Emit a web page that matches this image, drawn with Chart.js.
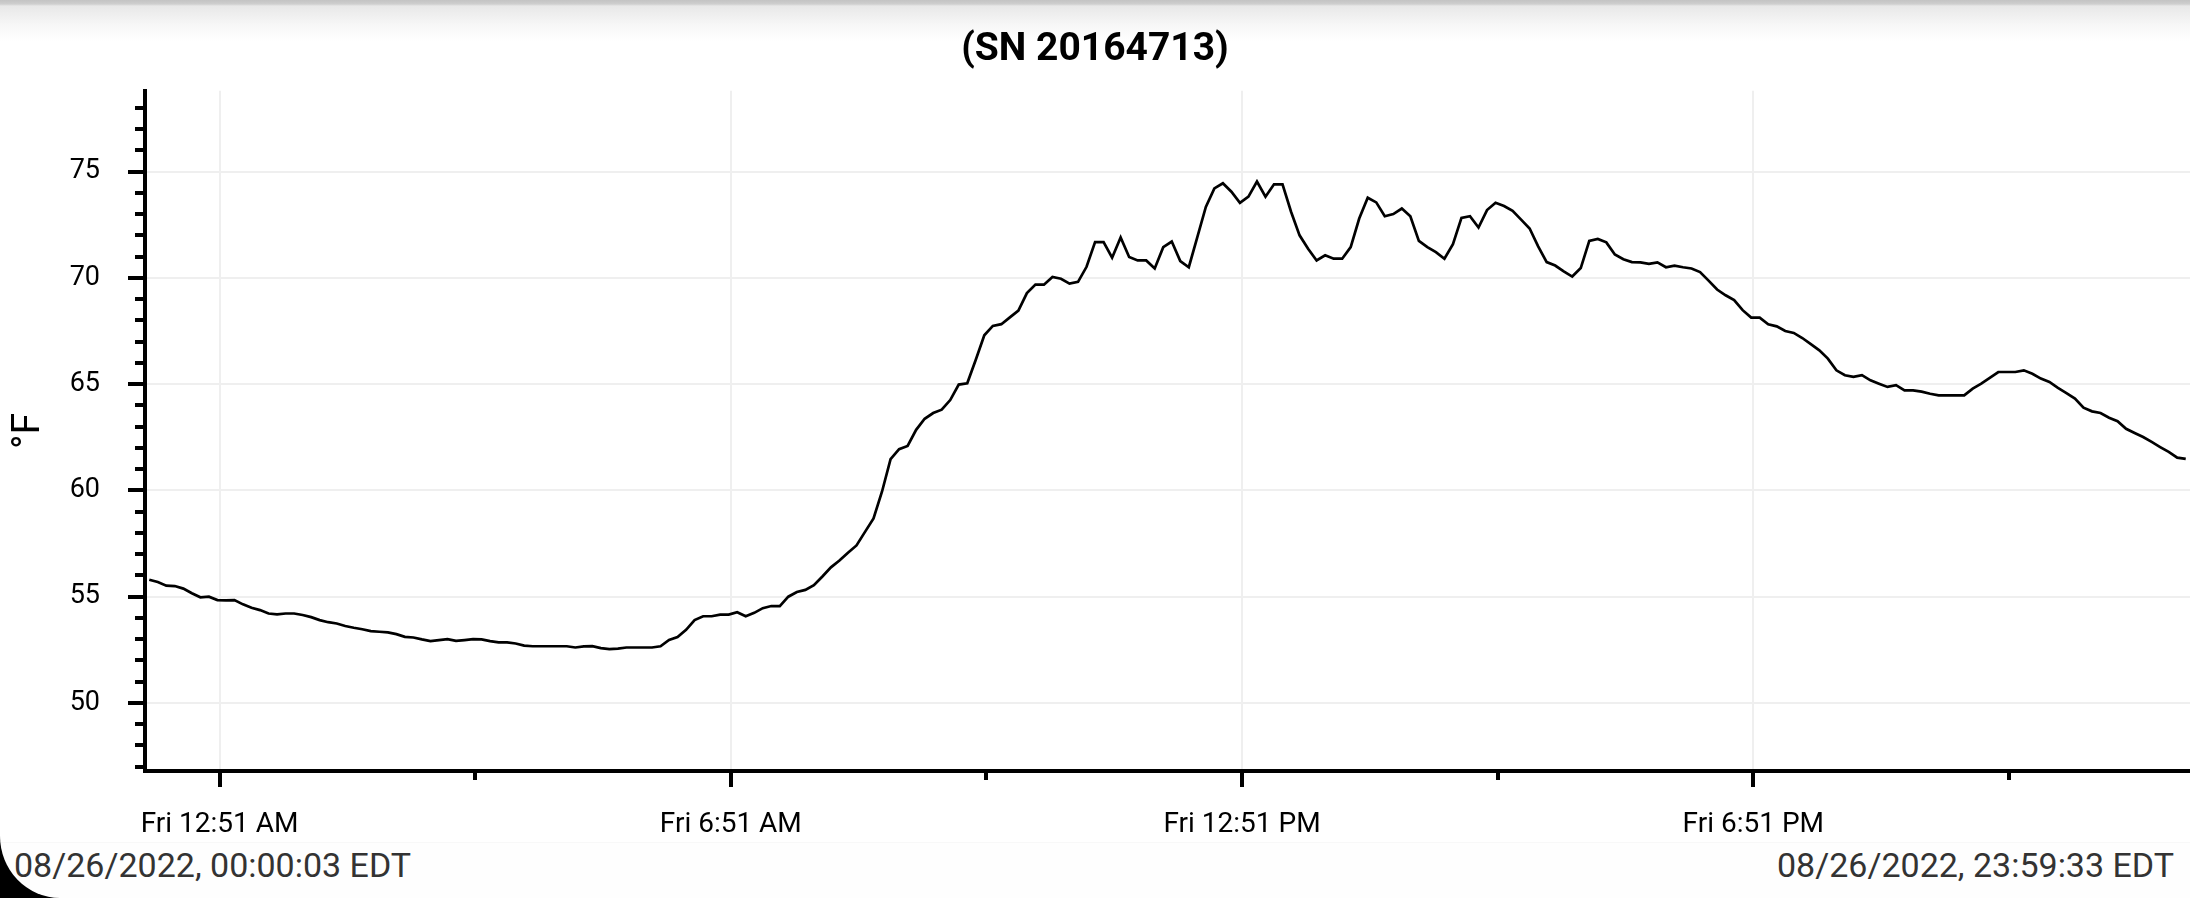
<!DOCTYPE html>
<html>
<head>
<meta charset="utf-8">
<title>SN 20164713</title>
<script src="https://cdn.jsdelivr.net/npm/chart.js@4.4.1/dist/chart.umd.min.js"></script>
<style>
  html, body { margin:0; padding:0; background:#fff; width:2190px; height:898px; overflow:hidden; font-family: Roboto, sans-serif; }
  #topShade { position:absolute; left:0; top:0; width:2190px; height:42px;
    background: linear-gradient(to bottom, #c3c3c3 0px, #cecece 4px, #e8e8e8 6px, #f6f6f6 24px, #ffffff 42px); }
  #chartBox { position:absolute; left:0; top:0; width:2190px; height:850px; }
  #footer { position:absolute; left:0; top:842px; width:2190px; height:56px;
    background:#fefefe; border-top:1px solid #f8f8f8; }
  .stamp { position:absolute; top:2px; font-size:34px; line-height:40px; color:#333; }
  #stampStart { left:14px; }
  #stampEnd { right:16px; }
  #corner { position:absolute; left:0; bottom:0; width:60px; height:62px; overflow:hidden; }
  #corner div { position:absolute; left:0; bottom:0; width:160px; height:160px;
    border-bottom-left-radius:60px 62px; box-shadow:0 0 0 80px #000; }
</style>
</head>
<body>
<div id="topShade"></div>
<div id="chartBox"><canvas id="id-grafico"></canvas></div>
<div id="footer">
  <span class="stamp" id="stampStart">08/26/2022, 00:00:03 EDT</span>
  <span class="stamp" id="stampEnd">08/26/2022, 23:59:33 EDT</span>
</div>
<div id="corner"><div></div></div>

<script>
// readings every 6 minutes, °F
const tempNight = [55.80, 55.69, 55.52, 55.50, 55.38, 55.16, 54.97, 55.00, 54.84, 54.83,
  54.84, 54.64, 54.48, 54.37, 54.21, 54.17, 54.21, 54.21, 54.14, 54.04,
  53.90, 53.80, 53.74, 53.62, 53.54, 53.47, 53.38, 53.35, 53.32, 53.24,
  53.11, 53.08, 52.99, 52.91, 52.96, 53.00, 52.92, 52.96, 53.00, 52.99,
  52.91, 52.85, 52.85, 52.80, 52.70, 52.67, 52.67, 52.67, 52.67, 52.67,
  52.61, 52.66, 52.67, 52.58, 52.53, 52.56, 52.61, 52.61, 52.61, 52.61, 52.67];
const tempMorning = [52.97, 53.10, 53.44, 53.90, 54.08, 54.08, 54.16, 54.16, 54.27, 54.08,
  54.24, 54.46, 54.56, 54.56, 55.00, 55.22, 55.32, 55.54, 55.95, 56.38,
  56.70, 57.07, 57.41, 58.05, 58.68, 59.95, 61.47, 61.94, 62.09, 62.85,
  63.37, 63.64, 63.80, 64.25, 64.98, 65.04, 66.15, 67.30, 67.74, 67.82,
  68.14, 68.46, 69.28, 69.68, 69.68, 70.04, 69.96, 69.73, 69.81, 70.52,
  71.68, 71.68, 70.95, 71.90, 70.98, 70.82, 70.82, 70.44, 71.44, 71.71, 70.79];
const tempAfternoon = [70.50, 71.92, 73.34, 74.21, 74.45, 74.05, 73.53, 73.82, 74.53, 73.82,
  74.40, 74.40, 73.11, 72.00, 71.37, 70.82, 71.06, 70.90, 70.90, 71.45,
  72.79, 73.77, 73.55, 72.90, 73.00, 73.26, 72.90, 71.74, 71.45, 71.21,
  70.90, 71.58, 72.82, 72.90, 72.37, 73.19, 73.53, 73.38, 73.15, 72.74,
  72.32, 71.48, 70.74, 70.58, 70.30, 70.06, 70.46, 71.74, 71.83, 71.67,
  71.10, 70.88, 70.74, 70.73, 70.66, 70.73, 70.50, 70.57, 70.50, 70.44, 70.27, 69.87];
const tempEvening = [69.45, 69.18, 68.95, 68.48, 68.13, 68.13, 67.82, 67.72, 67.50, 67.41,
  67.17, 66.88, 66.59, 66.20, 65.65, 65.42, 65.34, 65.42, 65.18, 65.02,
  64.87, 64.95, 64.71, 64.71, 64.65, 64.55, 64.47, 64.47, 64.47, 64.47,
  64.79, 65.02, 65.29, 65.57, 65.57, 65.57, 65.65, 65.49, 65.26, 65.10,
  64.82, 64.58, 64.32, 63.89, 63.72, 63.64, 63.42, 63.26, 62.90, 62.70,
  62.51, 62.28, 62.04, 61.81, 61.54, 61.48];

const firstReadingMin = 3;   // minutes after midnight
const stepMin = 6;

// x axis: minutes after midnight
const xMajorTicks = [52.5, 412.5, 772.5, 1132.5];
const xMajorLabels = ["Fri 12:51 AM", "Fri 6:51 AM", "Fri 12:51 PM", "Fri 6:51 PM"];
const xMinorTicks = [232.5, 592.5, 952.5, 1312.5];

const yMin = 46.8;
const yMax = 78.8;
const yLabelEvery = 5;

let temps = tempNight.concat(tempMorning, tempAfternoon, tempEvening);
let points = temps.map((t, i) => ({x: firstReadingMin + i * stepMin, y: t}));

function isXMajor(v){
    return xMajorTicks.indexOf(v) >= 0;
}
function isYMajor(v){
    return v % yLabelEvery === 0;
}

Chart.defaults.font.family = "Roboto";

new Chart('id-grafico', {
    type: "line",
    data: {
        datasets: [{
            label: "(SN 20164713)",
            data: points,
            borderColor: "#000",
            borderWidth: 2.7,
            pointRadius: 0,
            tension: 0,
            fill: false
        }]
    },
    options: {
        responsive: true,
        maintainAspectRatio: false,
        animation: false,
        layout: {padding: 0},
        plugins: {
            legend: {display: false},
            tooltip: {enabled: false},
            title: {
                display: true,
                text: "(SN 20164713)",
                color: "#000",
                font: {size: 39, weight: "bold"},
                padding: {top: 27, bottom: 17}
            }
        },
        scales: {
            x: {
                type: "linear",
                min: 0,
                max: 1440,
                afterBuildTicks: (axis) => {
                    let all = xMajorTicks.concat(xMinorTicks).sort((a, b) => a - b);
                    axis.ticks = all.map(v => ({value: v}));
                },
                afterFit: (axis) => { axis.height = 79; },
                ticks: {
                    autoSkip: false,
                    maxRotation: 0,
                    padding: 21,
                    color: "#000",
                    font: {size: 28},
                    callback: (v) => {
                        let i = xMajorTicks.indexOf(v);
                        return i >= 0 ? xMajorLabels[i] : "";
                    }
                },
                grid: {
                    color: (ctx) => (ctx.tick && isXMajor(ctx.tick.value)) ? "#efefef" : "transparent",
                    lineWidth: 2,
                    tickLength: 16,
                    tickWidth: 4,
                    tickColor: "#000",
                    tickBorderDash: (ctx) => (ctx.tick && !isXMajor(ctx.tick.value)) ? [7, 100] : []
                },
                border: {color: "#000", width: 4}
            },
            y: {
                min: yMin,
                max: yMax,
                afterBuildTicks: (axis) => {
                    let list = [];
                    for (let v = Math.ceil(yMin); v <= Math.floor(yMax); v++) list.push({value: v});
                    axis.ticks = list;
                },
                afterFit: (axis) => { axis.width = 145; },
                title: {
                    display: true,
                    text: "°F",
                    color: "#000",
                    font: {size: 39},
                    padding: {top: 6, bottom: 0}
                },
                ticks: {
                    autoSkip: false,
                    padding: 28,
                    color: "#000",
                    font: {size: 27},
                    callback: (v) => isYMajor(v) ? String(v) : ""
                },
                grid: {
                    color: (ctx) => (ctx.tick && isYMajor(ctx.tick.value)) ? "#efefef" : "transparent",
                    lineWidth: 2,
                    tickLength: 17,
                    tickWidth: 4,
                    tickColor: "#000",
                    tickBorderDash: (ctx) => (ctx.tick && !isYMajor(ctx.tick.value)) ? [0, 7, 8, 100] : []
                },
                border: {color: "#000", width: 4}
            }
        }
    }
});
</script>
</body>
</html>
